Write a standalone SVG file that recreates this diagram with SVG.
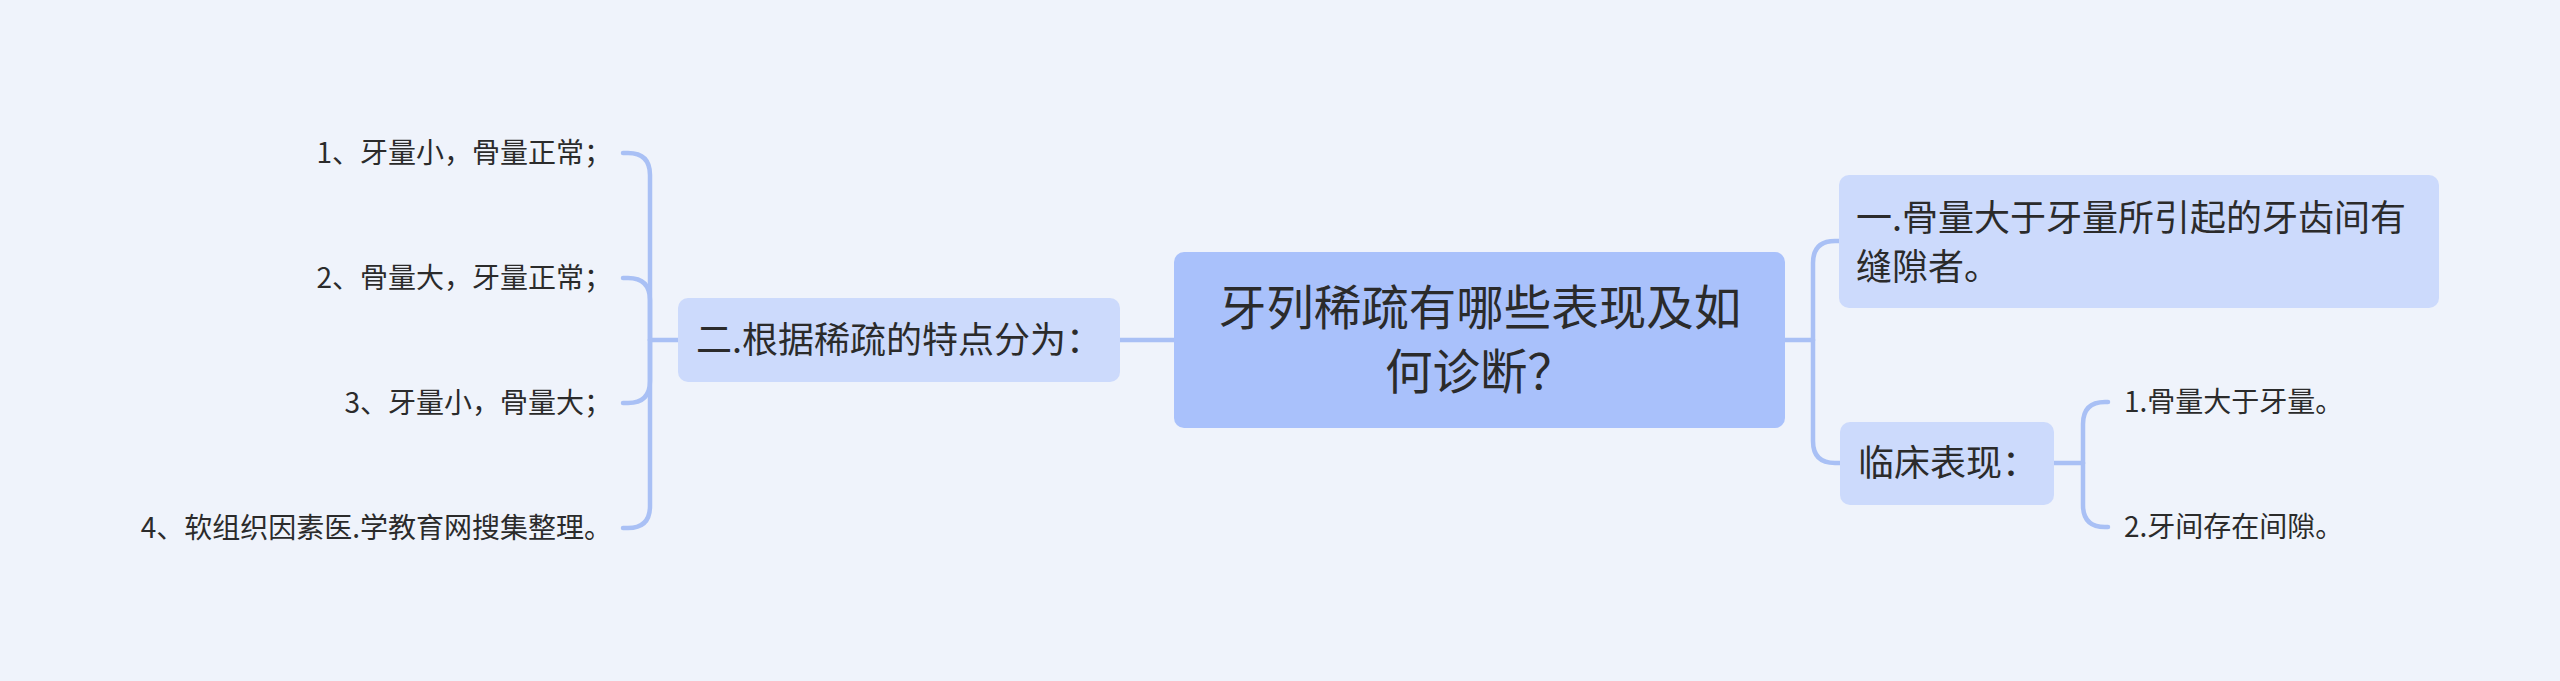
<svg xmlns="http://www.w3.org/2000/svg" width="2560" height="681" viewBox="0 0 2560 681">
<style>
.bg{fill:#eff3fb}
.root{fill:#a9c1fb}
.sub{fill:#ccdafc}
.lk{fill:none;stroke:#a9c0f5;stroke-width:4.5;stroke-linecap:round}
text{font-family:"Noto Sans CJK SC","Noto Sans",sans-serif;fill:#2b2b2b}
.t45{font-size:47.5px}
.t36{font-size:36px}
.t28{font-size:28px}
</style>
<rect class="bg" x="0" y="0" width="2560" height="681"/>
<g id="connectors">
<path class="lk" d="M1120,340 H1174"/>
<path class="lk" d="M678,340 H650"/>
<path class="lk" d="M650,340 V175 Q650,153 628,153 H623"/>
<path class="lk" d="M650,340 V300 Q650,278 628,278 H623"/>
<path class="lk" d="M650,340 V381 Q650,403 628,403 H623"/>
<path class="lk" d="M650,340 V506 Q650,528 628,528 H623"/>
<path class="lk" d="M1785,340 H1813"/>
<path class="lk" d="M1813,340 V263 Q1813,241 1835,241 H1840"/>
<path class="lk" d="M1813,340 V441 Q1813,463 1835,463 H1840"/>
<path class="lk" d="M2054,463 H2083"/>
<path class="lk" d="M2083,463 V424 Q2083,402 2105,402 H2108"/>
<path class="lk" d="M2083,463 V505 Q2083,527 2105,527 H2108"/>
</g>
<g id="root">
<rect class="root" x="1174" y="252" width="611" height="176" rx="10"/>
<text class="t45" x="1480" y="325" text-anchor="middle">牙列稀疏有哪些表现及如</text>
<text class="t45" x="1480" y="389" text-anchor="middle">何诊断？</text>
</g>
<g id="n-left">
<rect class="sub" x="678" y="298" width="442" height="84" rx="10"/>
<text class="t36" x="696" y="353">二.根据稀疏的特点分为：</text>
</g>
<g id="leaf-l1"><text class="t28" x="612" y="163" text-anchor="end">1、牙量小，骨量正常；</text></g>
<g id="leaf-l2"><text class="t28" x="612" y="288" text-anchor="end">2、骨量大，牙量正常；</text></g>
<g id="leaf-l3"><text class="t28" x="612" y="413" text-anchor="end">3、牙量小，骨量大；</text></g>
<g id="leaf-l4"><text class="t28" x="612" y="538" text-anchor="end">4、软组织因素医.学教育网搜集整理。</text></g>
<g id="n-right1">
<rect class="sub" x="1839" y="175" width="600" height="133" rx="10"/>
<text class="t36" x="1856" y="231">一.骨量大于牙量所引起的牙齿间有</text>
<text class="t36" x="1856" y="280">缝隙者。</text>
</g>
<g id="n-right2">
<rect class="sub" x="1840" y="422" width="214" height="83" rx="10"/>
<text class="t36" x="1858" y="476">临床表现：</text>
</g>
<g id="leaf-r1"><text class="t28" x="2124" y="412">1.骨量大于牙量。</text></g>
<g id="leaf-r2"><text class="t28" x="2124" y="537">2.牙间存在间隙。</text></g>
</svg>
